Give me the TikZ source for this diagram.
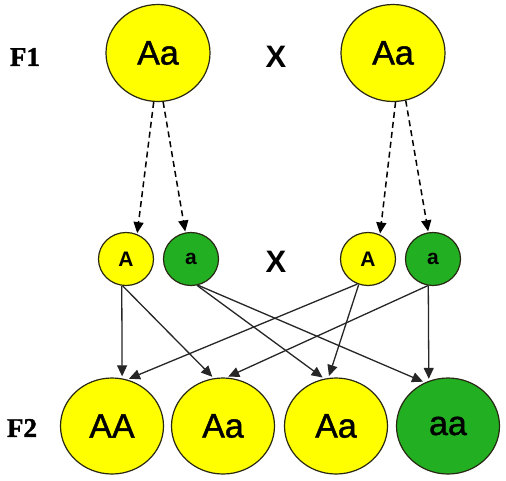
\documentclass[tikz,border=0pt]{standalone}
\usepackage{fontspec}
\setmainfont{Liberation Sans}
\newfontfamily\labfont[FakeBold=1.5]{Liberation Serif}
\newfontfamily\heavyfont[FakeBold=1.2]{Liberation Sans}
\usetikzlibrary{shapes.geometric,arrows.meta}
\definecolor{cyel}{RGB}{255,255,0}
\definecolor{cgrn}{RGB}{34,176,34}
\definecolor{cedge}{RGB}{40,40,20}
\tikzset{
  big/.style={ellipse,draw=cedge,line width=1.2pt,inner sep=0pt,minimum width=104pt,minimum height=97pt,font=\heavyfont\fontsize{34}{40}\selectfont},
  small/.style={ellipse,draw=cedge,line width=1.2pt,inner sep=0pt,minimum width=55pt,minimum height=53pt,font=\bfseries\fontsize{21}{24}\selectfont},
  yel/.style={fill=cyel},
  grn/.style={fill=cgrn},
  cross/.style={font=\bfseries\fontsize{31}{36}\selectfont},
  gen/.style={font=\labfont\bfseries\fontsize{27}{32}\selectfont},
  dasharrow/.style={draw=black,line width=1.5pt,dash pattern=on 6pt off 4pt,-{Triangle[length=11pt,width=10pt]},shorten >=1pt},
  solidarrow/.style={draw=black!85,line width=1.3pt,-{Triangle[length=11pt,width=10pt]},shorten >=2pt}
}
\begin{document}
\begin{tikzpicture}[x=1pt,y=-1pt]
\useasboundingbox (0,0) rectangle (506,480);
\fill[white] (0,0) rectangle (506,480);
% F1 row
\node[gen] (f1) at (25,57) {F1};
\node[big,yel] (p1) at (158,53) {Aa};
\node[cross] (x1) at (276,57) {X};
\node[big,yel] (p2) at (393,53) {Aa};
% gametes
\node[small,yel] (A1) at (126,259) {A};
\node[small,grn] (a1) at (191,259) {a};
\node[cross] (x2) at (276,262) {X};
\node[small,yel] (A2) at (368,259) {A};
\node[small,grn] (a2) at (433,259) {a};
% F2 row
\node[gen] (f2) at (22,428) {F2};
\node[big,yel,minimum width=103pt,minimum height=96pt] (AA) at (112,426) {AA};
\node[big,yel,minimum width=103pt,minimum height=96pt] (Aa1) at (223,426) {Aa};
\node[big,yel,minimum width=103pt,minimum height=96pt] (Aa2) at (336,426) {Aa};
\node[big,grn,minimum width=103pt,minimum height=96pt] (aa) at (448,426) {aa};
% dashed
\draw[dasharrow] (p1.265) -- (A1.66);
\draw[dasharrow] (p1.276) -- (a1.102);
\draw[dasharrow] (p2.273) -- (A2.64);
\draw[dasharrow] (p2.285) -- (a2.100);
% solid
\draw[solidarrow] (A1.261) -- (AA.78);
\draw[solidarrow] (A1.263) -- (Aa1.101);
\draw[solidarrow] (a1.283) -- (Aa2.104);
\draw[solidarrow] (a1.285) -- (aa.118);
\draw[solidarrow] (A2.247) -- (AA.72);
\draw[solidarrow] (A2.250) -- (Aa2.99);
\draw[solidarrow] (a2.259) -- (Aa1.86);
\draw[solidarrow] (a2.260) -- (aa.113);
\end{tikzpicture}
\end{document}
